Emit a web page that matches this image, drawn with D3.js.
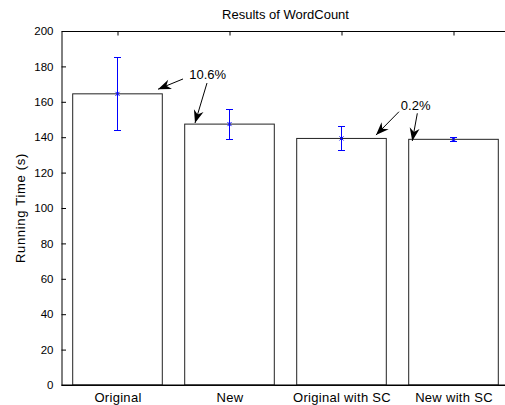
<!DOCTYPE html>
<html>
<head>
<meta charset="utf-8">
<script src="https://cdnjs.cloudflare.com/ajax/libs/d3/7.8.5/d3.min.js"></script>
<style>
  body { margin: 0; background: #fff; }
  svg text { font-family: "Liberation Sans", Arial, Helvetica, sans-serif; fill: #000; }
</style>
</head>
<body>
<div id="chart"></div>
<script>
// data
const categories = ['Original', 'New', 'Original with SC', 'New with SC'];
const means = [164.5, 147.4, 139.3, 138.8];
const errs = [20.8, 8.5, 7.0, 1.0];
const yTicks = [0, 20, 40, 60, 80, 100, 120, 140, 160, 180, 200];

// annotations (data coords): label position and arrows [from, to]
const notes = [
  { text: '10.6%', x: 1.64, y: 175.7,
    arrows: [[1.585, 172.9, 1.362, 167.1], [1.799, 170.6, 1.692, 148.0]] },
  { text: '0.2%', x: 3.53, y: 158.2,
    arrows: [[3.513, 154.4, 3.308, 141.2], [3.677, 153.5, 3.632, 137.9]] }
];

const width = 505, height = 405;
const margin = { top: 31, right: -4.5, bottom: 20, left: 61.5 };

const svg = d3.select('#chart').append('svg')
  .attr('width', width)
  .attr('height', height);

svg.append('defs').append('marker')
  .attr('id', 'head')
  .attr('markerUnits', 'userSpaceOnUse')
  .attr('viewBox', '-14 -6 15 12')
  .attr('refX', 0).attr('refY', 0)
  .attr('markerWidth', 15).attr('markerHeight', 12)
  .attr('orient', 'auto')
  .append('path')
  .attr('d', 'M0,0 L-13,-5 L-9,0 L-13,5 Z')
  .attr('fill', '#000');

const x = d3.scaleLinear().domain([0.5, 4.5]).range([margin.left, width - margin.right]);
const y = d3.scaleLinear().domain([0, 200]).range([height - margin.bottom, margin.top]);
const px = v => Math.round(v - 0.5) + 0.5;

// axes (ticks point inward, matlab style)
svg.append('g')
  .attr('transform', `translate(${margin.left},0)`)
  .call(d3.axisLeft(y).tickValues(yTicks).tickSizeInner(-4.5).tickSizeOuter(0).tickPadding(8))
  .call(g => g.selectAll('text').style('font-size', '11.5px'));

svg.append('g')
  .attr('transform', `translate(0,${margin.top})`)
  .call(d3.axisTop(x).tickValues([1, 2, 3, 4]).tickFormat('').tickSizeInner(-4.5).tickSizeOuter(0));

svg.append('g')
  .attr('transform', `translate(0,${y(0)})`)
  .call(d3.axisBottom(x).tickValues([1, 2, 3, 4]).tickFormat(d => categories[d - 1])
    .tickSizeInner(-4.5).tickSizeOuter(0).tickPadding(8))
  .call(g => g.selectAll('text').style('font-size', '13px').style('letter-spacing', '0.3px'));

svg.selectAll('.domain, .tick line').attr('stroke', '#000');

// bars
svg.selectAll('.bar')
  .data(means)
  .enter().append('rect')
  .attr('class', 'bar')
  .attr('x', (d, i) => x(i + 1 - 0.4))
  .attr('width', x(1.4) - x(0.6))
  .attr('y', d => y(d))
  .attr('height', d => y(0) - y(d))
  .attr('fill', '#fff')
  .attr('stroke', '#222')
  .attr('stroke-width', 1);

// error bars
const eb = svg.selectAll('.err')
  .data(means)
  .enter().append('g')
  .attr('class', 'err')
  .style('stroke', '#0000ff')
  .style('fill', 'none')
  .style('stroke-width', 1);

eb.append('line')
  .style('shape-rendering', 'crispEdges')
  .attr('x1', (d, i) => px(x(i + 1))).attr('x2', (d, i) => px(x(i + 1)))
  .attr('y1', (d, i) => y(d - errs[i])).attr('y2', (d, i) => y(d + errs[i]));
eb.append('line')
  .style('shape-rendering', 'crispEdges')
  .attr('x1', (d, i) => px(x(i + 1)) - 3.5).attr('x2', (d, i) => px(x(i + 1)) + 3.5)
  .attr('y1', (d, i) => px(y(d + errs[i]))).attr('y2', (d, i) => px(y(d + errs[i])));
eb.append('line')
  .style('shape-rendering', 'crispEdges')
  .attr('x1', (d, i) => px(x(i + 1)) - 3.5).attr('x2', (d, i) => px(x(i + 1)) + 3.5)
  .attr('y1', (d, i) => px(y(d - errs[i]))).attr('y2', (d, i) => px(y(d - errs[i])));
eb.append('path')
  .attr('d', (d, i) => {
    const cx = px(x(i + 1)), cy = y(d), r = 2;
    return `M${cx - r},${cy - r}L${cx + r},${cy + r}M${cx - r},${cy + r}L${cx + r},${cy - r}`;
  });

// box line at bottom redrawn over bar edges
svg.append('line')
  .attr('x1', margin.left).attr('x2', width)
  .attr('y1', y(0)).attr('y2', y(0))
  .attr('stroke', '#000');

// title and y label
svg.append('text')
  .attr('x', (x(0.5) + x(4.5)) / 2)
  .attr('y', 19)
  .attr('text-anchor', 'middle')
  .style('font-size', '13px')
  .text('Results of WordCount');

svg.append('text')
  .attr('transform', `translate(24.5,${(y(0) + y(200)) / 2}) rotate(-90)`)
  .attr('text-anchor', 'middle')
  .style('font-size', '13px')
  .style('letter-spacing', '0.7px')
  .text('Running Time (s)');

// annotations
notes.forEach(n => {
  svg.append('text')
    .attr('x', x(n.x))
    .attr('y', y(n.y))
    .attr('dy', '0.35em')
    .style('font-size', '13px')
    .text(n.text);
  n.arrows.forEach(a => {
    svg.append('line')
      .attr('x1', x(a[0])).attr('y1', y(a[1]))
      .attr('x2', x(a[2])).attr('y2', y(a[3]))
      .attr('stroke', '#000')
      .attr('stroke-width', 1)
      .attr('marker-end', 'url(#head)');
  });
});
</script>
</body>
</html>
